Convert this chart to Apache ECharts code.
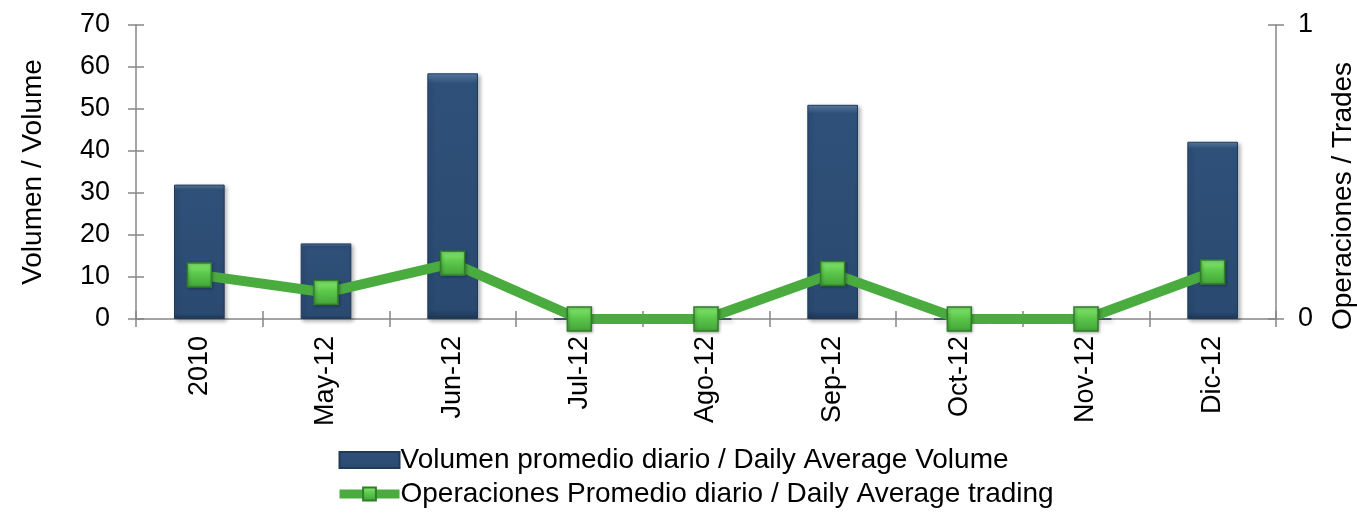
<!DOCTYPE html>
<html><head><meta charset="utf-8">
<script src="https://cdn.jsdelivr.net/npm/echarts@6/dist/echarts.min.js"></script>
<style>html,body{margin:0;padding:0;background:#fff}#c{width:1357px;height:513px}</style>
</head><body><div id="c"></div>
<script>
const categories = ['2010','May-12','Jun-12','Jul-12','Ago-12','Sep-12','Oct-12','Nov-12','Dic-12'];
const volumeValues = [32, 18, 58.5, 0, 0, 51, 0, 0, 42.2];
const tradeValues = [0.15, 0.09, 0.19, 0, 0, 0.155, 0, 0, 0.16];
const leftTicks = [0, 70, 10];
const rightTicks = [0, 1, 1];
const volName = 'Volumen promedio diario / Daily Average Volume';
const tradeName = 'Operaciones Promedio diario / Daily Average trading';

const font = 'Liberation Sans, Arial, sans-serif';
const axisGray = '#868686';
const fs = 27;
const ts = 28;
const tickStyle = {color: axisGray, width: 1.5};
function innerY(idx, t) {
  return {
    type: 'value', min: t[0], max: t[1], interval: t[2], position: idx ? 'right' : 'left',
    axisLine: {show: false}, axisLabel: {show: false}, splitLine: {show: false},
    axisTick: {show: true, inside: true, length: 8, lineStyle: tickStyle}
  };
}
const chart = echarts.init(document.getElementById('c'));
chart.setOption({
  animation: false,
  textStyle: {fontFamily: font},
  grid: {left: 136, right: 81, top: 25, bottom: 194, containLabel: false, outerBoundsMode: 'none'},
  legend: {
    orient: 'vertical', left: 330, top: 441, itemGap: 6, itemWidth: 60, itemHeight: 16,
    textStyle: {fontSize: ts, color: '#000', fontFamily: font, padding: [0,0,0,-4]},
    data: [{name: volName, icon: 'rect'}, {name: tradeName, lineStyle: {width: 9}}]
  },
  xAxis: [{
    type: 'category', data: categories,
    axisLine: {lineStyle: tickStyle},
    axisTick: {show: true, length: 8, lineStyle: tickStyle},
    axisLabel: {rotate: 90, fontSize: fs, color: '#000', margin: 17, fontFamily: font}
  }, {
    type: 'category', data: categories, position: 'bottom',
    axisLine: {show: false}, axisLabel: {show: false},
    axisTick: {show: true, inside: true, length: 8, lineStyle: tickStyle}
  }],
  yAxis: [{
    type: 'value', min: leftTicks[0], max: leftTicks[1], interval: leftTicks[2],
    name: 'Volumen / Volume', nameLocation: 'middle', nameGap: 89, nameRotate: 90,
    nameTextStyle: {fontSize: ts, color: '#000', fontFamily: font},
    axisLine: {show: true, lineStyle: tickStyle},
    axisTick: {show: true, length: 8, lineStyle: tickStyle},
    axisLabel: {fontSize: fs, color: '#000', margin: 26, fontFamily: font},
    splitLine: {show: false}
  }, {
    type: 'value', min: rightTicks[0], max: rightTicks[1], interval: rightTicks[2],
    name: 'Operaciones / Trades', nameLocation: 'middle', nameGap: 53, nameRotate: 90,
    nameTextStyle: {fontSize: ts, color: '#000', fontFamily: font, padding: [0, 48, 0, 0]},
    axisLine: {show: true, lineStyle: tickStyle},
    axisTick: {show: true, length: 8, lineStyle: tickStyle},
    axisLabel: {fontSize: fs, color: '#000', margin: 22, fontFamily: font},
    splitLine: {show: false}
  }, innerY(0, leftTicks), innerY(1, rightTicks)],
  series: [{
    name: volName, type: 'bar', data: volumeValues, barWidth: '40%',
    itemStyle: {
      color: new echarts.graphic.LinearGradient(0,0,0,1,[
        {offset: 0, color: '#5b7fa8'}, {offset: 0.04, color: '#2f5079'},
        {offset: 0.96, color: '#2a4a70'}, {offset: 1, color: '#1e3756'}]),
      borderColor: '#203a5a', borderWidth: 1,
      shadowColor: 'rgba(0,0,0,0.3)', shadowBlur: 4, shadowOffsetX: 2, shadowOffsetY: 2
    }
  }, {
    name: tradeName, type: 'line', yAxisIndex: 1, data: tradeValues,
    symbol: 'rect', symbolSize: 24,
    lineStyle: {color: '#4aab3f', width: 10},
    itemStyle: {
      color: new echarts.graphic.LinearGradient(0,0,0,1,[
        {offset: 0, color: '#86ea72'}, {offset: 0.45, color: '#5cc84b'}, {offset: 1, color: '#43a338'}]),
      borderColor: '#2f7f2a', borderWidth: 1.5,
      shadowColor: 'rgba(0,0,0,0.3)', shadowBlur: 3, shadowOffsetX: 1, shadowOffsetY: 1
    }
  }]
});
</script></body></html>
